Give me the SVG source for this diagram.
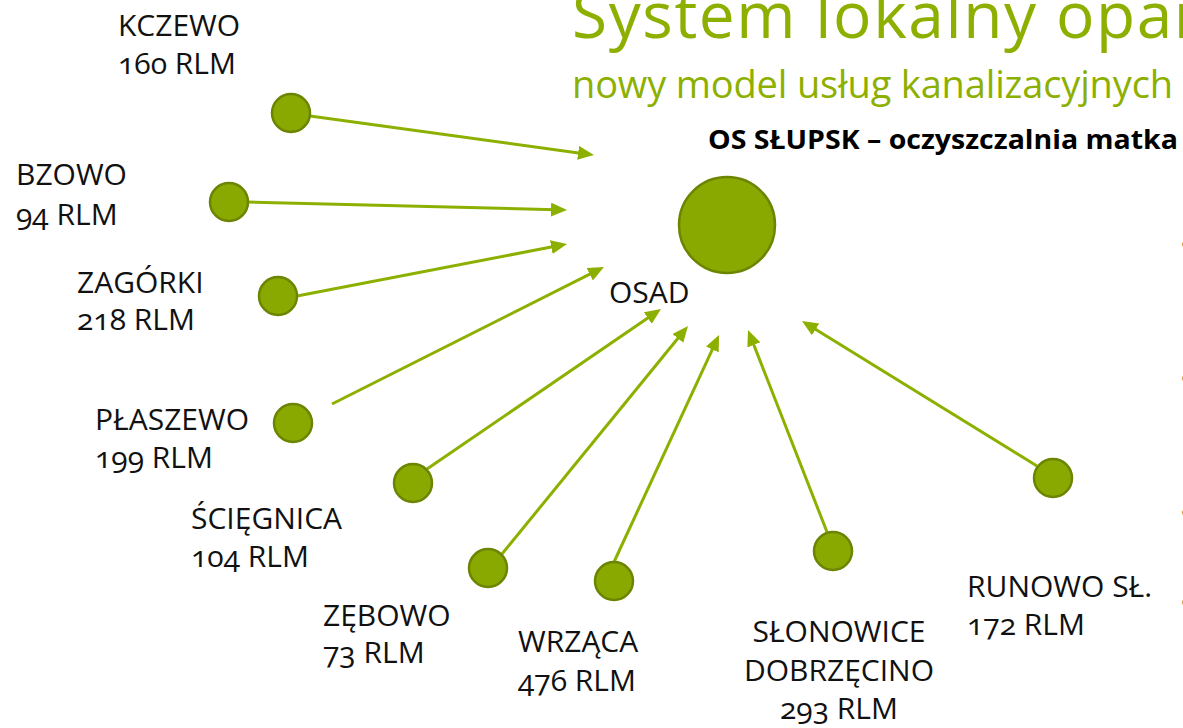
<svg xmlns="http://www.w3.org/2000/svg" width="1183" height="728" viewBox="0 0 1183 728">
  <style>
    .lbl { font-family: "Open Sans", "Noto Sans", "DejaVu Sans", sans-serif; font-size: 30px; fill: #111; }
    .num { font-variant-numeric: oldstyle-nums; }
    .node { fill: #8AA900; stroke: #6B8500; stroke-width: 2.5; }
    .conn { stroke: #8CB000; stroke-width: 3; fill: none; marker-end: url(#arr); }
    .title { font-family: "Open Sans", "Noto Sans", sans-serif; fill: #8DB000; }
    .bullet { font-family: "Open Sans", sans-serif; font-size: 30px; fill: #333; }
  </style>
  <defs>
    <marker id="arr" markerUnits="userSpaceOnUse" markerWidth="16" markerHeight="14" refX="4" refY="7" orient="auto">
      <path d="M0,0 L16,7 L0,14 z" fill="#8CB000"/>
    </marker>
  </defs>
  <rect width="1183" height="728" fill="#fff"/>

  <g id="title">
    <text class="title" x="572" y="38" font-size="64" textLength="628" lengthAdjust="spacing">System lokalny opar</text>
    <text class="title" x="572" y="98" font-size="38" textLength="601" lengthAdjust="spacing">nowy model usług kanalizacyjnych</text>
  </g>

  <g id="bullets">
    <text class="bullet" x="1180" y="255">•</text>
    <text class="bullet" x="1180" y="389">•</text>
    <text class="bullet" x="1180" y="523">•</text>
    <text class="bullet" x="1180" y="613">•</text>
  </g>

  <g id="connectors">
    <line class="conn" x1="310" y1="116" x2="582.1" y2="153.4"/>
    <line class="conn" x1="248" y1="202" x2="555.0" y2="209.7"/>
    <line class="conn" x1="297" y1="296" x2="555.2" y2="246.3"/>
    <line class="conn" x1="332" y1="404" x2="593.3" y2="272.4"/>
    <line class="conn" x1="427" y1="469" x2="651.1" y2="315.8"/>
    <line class="conn" x1="502" y1="554" x2="680.4" y2="335.3"/>
    <line class="conn" x1="614" y1="562" x2="714.0" y2="345.9"/>
    <line class="conn" x1="827" y1="532" x2="752.4" y2="341.2"/>
    <line class="conn" x1="1037" y1="466" x2="812.2" y2="327.3"/>
  </g>

  <g id="os-slupsk">
    <circle class="node" cx="727" cy="225" r="48" stroke-width="3"/>
    <text x="708" y="149" font-family="'Open Sans', 'Noto Sans', sans-serif" font-weight="bold" font-size="27.5" fill="#000" textLength="470" lengthAdjust="spacingAndGlyphs">OS SŁUPSK – oczyszczalnia matka</text>
  </g>

  <g id="osad">
    <text class="lbl" x="609" y="303" font-size="34">OSAD</text>
  </g>

  <g id="kczewo">
    <circle class="node" cx="291" cy="113" r="19"/>
    <text class="lbl" x="118" y="36">KCZEWO</text>
    <text class="lbl" x="118" y="74"><tspan class="num">160</tspan> RLM</text>
  </g>

  <g id="bzowo">
    <circle class="node" cx="229" cy="202" r="19"/>
    <text class="lbl" x="16" y="185">BZOWO</text>
    <text class="lbl" x="16" y="225"><tspan class="num">94</tspan> RLM</text>
  </g>

  <g id="zagorki">
    <circle class="node" cx="278" cy="296" r="19"/>
    <text class="lbl" x="77" y="293">ZAGÓRKI</text>
    <text class="lbl" x="77" y="330"><tspan class="num">218</tspan> RLM</text>
  </g>

  <g id="plaszewo">
    <circle class="node" cx="293" cy="423" r="19"/>
    <text class="lbl" x="95" y="430">PŁASZEWO</text>
    <text class="lbl" x="95" y="468"><tspan class="num">199</tspan> RLM</text>
  </g>

  <g id="sciegnica">
    <circle class="node" cx="413" cy="483" r="19"/>
    <text class="lbl" x="191" y="529">ŚCIĘGNICA</text>
    <text class="lbl" x="191" y="567"><tspan class="num">104</tspan> RLM</text>
  </g>

  <g id="zebowo">
    <circle class="node" cx="488" cy="568" r="19"/>
    <text class="lbl" x="323" y="626">ZĘBOWO</text>
    <text class="lbl" x="323" y="663"><tspan class="num">73</tspan> RLM</text>
  </g>

  <g id="wrzaca">
    <circle class="node" cx="614" cy="581" r="19"/>
    <text class="lbl" x="518" y="652">WRZĄCA</text>
    <text class="lbl" x="518" y="691"><tspan class="num">476</tspan> RLM</text>
  </g>

  <g id="slonowice">
    <circle class="node" cx="833" cy="551" r="19"/>
    <text class="lbl" x="839" y="642" text-anchor="middle">SŁONOWICE</text>
    <text class="lbl" x="839" y="681" text-anchor="middle">DOBRZĘCINO</text>
    <text class="lbl" x="839" y="719" text-anchor="middle"><tspan class="num">293</tspan> RLM</text>
  </g>

  <g id="runowo">
    <circle class="node" cx="1053" cy="478" r="19"/>
    <text class="lbl" x="967" y="597">RUNOWO SŁ.</text>
    <text class="lbl" x="967" y="635"><tspan class="num">172</tspan> RLM</text>
  </g>
</svg>
